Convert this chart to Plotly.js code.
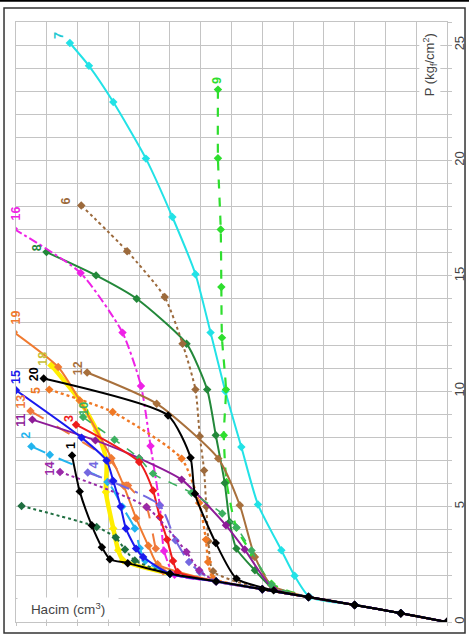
<!DOCTYPE html>
<html><head><meta charset="utf-8">
<script src="https://cdn.plot.ly/plotly-3.0.1.min.js"></script>
<style>html,body{margin:0;padding:0;background:#fff}#chart{width:469px;height:635px}</style>
</head><body><div id="chart"></div>
<script>
// Hacim (arbitrary grid units, increasing to the left) and P (kgf/cm2)
const hacim1 = [12.18, 11.93, 11.54, 11.21, 10.95, 10.37];
const p1 = [7.22, 5.66, 4.19, 3.24, 2.72, 2.55];
const hacim2 = [13.5, 12.9, 11.03, 10.55, 10.14, 9.98, 9.8];
const p2 = [7.61, 7.25, 6.07, 5.0, 4.05, 3.2, 2.65];
const hacim3 = [12.05, 10.0, 9.55, 9.33, 9.09, 8.9, 8.75];
const p3 = [8.55, 6.93, 5.7, 4.55, 3.57, 2.64, 2.17];
const hacim4 = [11.67, 10.89, 9.33, 8.82, 8.38, 8.03];
const p4 = [6.48, 6.09, 5.06, 3.54, 2.6, 2.17];
const hacim5 = [12.92, 10.86, 8.62, 8.05, 7.83, 7.76, 7.6];
const p5 = [10.07, 9.1, 7.08, 5.16, 3.57, 2.6, 1.9];
const hacim6 = [11.88, 10.39, 9.17, 8.59, 8.17, 8.03, 7.89, 7.82, 7.75, 7.6];
const p6 = [18.05, 16.07, 14.08, 12.06, 10.07, 8.05, 6.57, 5.0, 3.5, 2.2];
const hacim7 = [12.25, 11.63, 10.84, 9.78, 8.92, 8.17, 7.68, 7.2, 6.68, 6.14, 5.38, 4.95, 4.46];
const p7 = [25.09, 24.1, 22.53, 20.08, 17.55, 15.07, 12.54, 10.0, 7.58, 5.09, 3.11, 2.0, 1.08];
const hacim8 = [13.01, 11.4, 10.08, 8.46, 7.79, 7.51, 7.22, 7.06, 6.84, 6.24, 5.65];
const p8 = [16.03, 15.02, 14.01, 12.06, 10.07, 8.09, 6.02, 4.33, 3.18, 2.24, 1.45];
const hacim9 = [7.44, 7.44, 7.35, 7.33, 7.31, 7.18, 7.25, 7.16, 6.84, 6.3, 5.7];
const p9 = [23.07, 20.1, 17.01, 14.52, 12.32, 10.07, 8.09, 6.07, 4.08, 2.89, 1.66];
const hacim10 = [11.82, 10.8, 10.0, 9.55, 8.3, 7.3, 6.84, 6.35, 5.7];
const p10 = [8.88, 7.9, 7.1, 6.43, 5.6, 4.7, 4.1, 3.1, 1.6];
const hacim11 = [13.47, 11.42, 10.0, 8.62, 7.18, 6.57, 5.65];
const p11 = [8.77, 7.87, 7.1, 6.17, 4.19, 3.14, 1.45];
const hacim12 = [11.69, 9.43, 7.43, 6.73, 6.24, 5.7];
const p12 = [10.81, 9.46, 7.08, 5.06, 2.82, 1.59];
const hacim13 = [13.53, 10.95, 10.36, 9.76, 9.46, 9.22];
const p13 = [9.14, 7.0, 5.92, 4.98, 3.18, 2.2];
const hacim14 = [12.57, 9.76, 8.46, 8.05];
const p14 = [6.5, 4.98, 3.03, 2.24];
const hacim15 = [14.0, 11.87, 11.06, 10.84, 10.6, 10.43, 10.1, 9.87];
const p15 = [10.04, 7.99, 7.0, 6.11, 5.0, 4.05, 3.18, 2.82];
const hacim16 = [14.07, 11.9, 10.54, 9.94, 9.63, 9.33, 9.19, 8.85];
const p16 = [17.04, 15.12, 12.54, 10.23, 7.63, 5.06, 3.08, 2.05];
const hacim17 = [13.82, 11.38, 10.76, 10.46, 10.14];
const p17 = [5.03, 4.12, 3.66, 3.14, 2.67];
const hacim18 = [12.85, 11.93, 11.38, 11.06, 11.08, 10.84, 10.68, 10.52];
const p18 = [11.12, 9.6, 8.3, 7.0, 5.63, 4.05, 3.11, 2.67];
const hacim19 = [14.07, 12.63, 11.93, 10.9, 10.5, 10.1, 9.7, 9.4];
const p19 = [12.56, 11.05, 9.6, 7.1, 5.9, 4.5, 3.3, 2.5];
const hacim20 = [13.1, 9.06, 8.33, 8.19, 7.51, 6.84, 5.63];
const p20 = [10.55, 8.95, 7.12, 5.56, 3.42, 1.88, 1.37];
// shared loading branch near the origin
const tailHacim = [10.5, 9, 7.5, 6, 4.5, 3, 1.5, 0];
const tailP = [2.42, 2.09, 1.76, 1.42, 1.08, 0.74, 0.38, 0];

const seriesHacim = {1:hacim1,2:hacim2,3:hacim3,4:hacim4,5:hacim5,6:hacim6,7:hacim7,8:hacim8,9:hacim9,10:hacim10,11:hacim11,12:hacim12,13:hacim13,14:hacim14,15:hacim15,16:hacim16,17:hacim17,18:hacim18,19:hacim19,20:hacim20};
const seriesP = {1:p1,2:p2,3:p3,4:p4,5:p5,6:p6,7:p7,8:p8,9:p9,10:p10,11:p11,12:p12,13:p13,14:p14,15:p15,16:p16,17:p17,18:p18,19:p19,20:p20};

const styles = {
  1:{c:'#000000',d:'solid',w:2,lc:'#000000'},
  2:{c:'#22b4ee',d:'longdash',w:2,lc:'#22b4ee'},
  3:{c:'#ee1c1c',d:'solid',w:2,lc:'#ee1c1c'},
  4:{c:'#7468e0',d:'longdashdot',w:2,lc:'#7468e0'},
  5:{c:'#f07824',d:'dot',w:2.4,lc:'#f07824'},
  6:{c:'#9c6a3c',d:'dot',w:2,lc:'#9c6a3c'},
  7:{c:'#22e2e6',d:'solid',w:2,lc:'#22c8d0'},
  8:{c:'#23883a',d:'solid',w:2,lc:'#23883a'},
  9:{c:'#2ede2e',d:'dash',w:2.2,lc:'#2ede2e'},
  10:{c:'#3cb060',d:'dash',w:1.6,lc:'#3cb060'},
  11:{c:'#8e1c98',d:'solid',w:2,lc:'#8e1c98'},
  12:{c:'#a8703c',d:'solid',w:2,lc:'#a8703c'},
  13:{c:'#f07a3c',d:'longdash',w:2,lc:'#f07a3c'},
  14:{c:'#9a2aa8',d:'dot',w:2,lc:'#9a2aa8'},
  15:{c:'#1a1aee',d:'solid',w:2,lc:'#1a1aee'},
  16:{c:'#ee22e6',d:'dashdot',w:2,lc:'#ee22e6'},
  17:{c:'#1f6e40',d:'dot',w:2,lc:'#1f6e40'},
  18:{c:'#ffee00',d:'solid',w:4.5,lc:'#c8c03a'},
  19:{c:'#f07a30',d:'solid',w:2,lc:'#f07a30'},
  20:{c:'#000000',d:'solid',w:2,lc:'#000000'}
};
const drawOrder = [18,7,9,8,6,16,19,12,5,13,11,10,3,2,4,14,17,15,1,20];
const tailStop = {18: 9};   // yellow line stops where it meets the shared branch
const labelPos = {
  1:[12.19,7.66],2:[13.66,8.09],3:[12.3,8.81],4:[11.46,6.79],5:[13.33,10.04],
  6:[12.36,18.24],7:[12.58,25.42],8:[13.33,16.22],9:[7.45,23.47],10:[11.82,9.25],
  11:[13.82,8.74],12:[12.0,10.98],13:[13.82,9.53],14:[12.9,6.65],15:[14.0,10.62],
  16:[14.0,17.7],17:[14.04,5.63],18:[13.12,11.41],19:[14.0,13.2],20:[13.39,10.73]
};

const traces = drawOrder.map(k => {
  const hx = seriesHacim[k].slice(), py = seriesP[k].slice();
  const last = hx[hx.length-1];
  const stop = tailStop[k] !== undefined ? tailStop[k] : -1;
  tailHacim.forEach((u,i) => { if (u < last - 0.5 && u >= stop) { hx.push(u); py.push(tailP[i]); } });
  const s = styles[k];
  return {x:hx, y:py, type:'scatter', mode:'lines+markers', name:String(k), showlegend:false,
    line:{color:s.c, dash:s.d, width:s.w, shape:'spline', smoothing:0.6},
    marker:{symbol:'diamond', size:6.5, color:s.c}, hoverinfo:'skip'};
});

const annotations = Object.keys(labelPos).map(k => ({
  x:labelPos[k][0], y:labelPos[k][1], xref:'x', yref:'y', text:'<b>' + k + '</b>', showarrow:false,
  xanchor:'center', yanchor:'middle',
  textangle:-90, font:{family:'Liberation Sans, Arial, sans-serif', size:12.5, color:styles[k].lc}
}));
annotations.push({xref:'paper', yref:'paper', x:0.1206, y:0.0217, xanchor:'center', yanchor:'middle',
  text:'Hacim (cm<sup>3</sup>)', showarrow:false,
  bgcolor:'#ffffff', width:98, height:19, font:{family:'Liberation Sans, Arial, sans-serif', size:13.5, color:'#444'}});
annotations.push({xref:'paper', yref:'paper', x:0.9606, y:0.928, xanchor:'center', yanchor:'middle',
  text:'P (kg<sub>f</sub>/cm<sup>2</sup>)', showarrow:false,
  textangle:-90, bgcolor:'#ffffff', font:{family:'Liberation Sans, Arial, sans-serif', size:13, color:'#444'}});

const grid = '#c4c4c4';
const layout = {
  width:469, height:635, margin:{l:16, r:22, t:22, b:13},
  paper_bgcolor:'#ffffff', plot_bgcolor:'#ffffff', showlegend:false,
  xaxis:{range:[14,0], dtick:1, tick0:0, showticklabels:false, showgrid:true, gridcolor:grid, gridwidth:1,
    zeroline:false, showline:true, mirror:true, linecolor:grid, ticks:'outside', ticklen:3, tickcolor:grid, fixedrange:true},
  yaxis:{range:[0,26], side:'right', dtick:5, tick0:0, tickangle:-90, showgrid:true, gridcolor:grid, gridwidth:1,
    minor:{dtick:1, showgrid:true, gridcolor:grid, ticks:'outside', ticklen:4, tickcolor:grid},
    zeroline:false, showline:true, mirror:true, linecolor:grid, ticks:'outside', ticklen:4, tickcolor:grid,
    ticklabelstandoff:-4,
    tickfont:{family:'Liberation Sans, Arial, sans-serif', size:13, color:'#444'}, fixedrange:true},
  annotations:annotations,
  shapes:[
    {type:'rect', xref:'paper', yref:'paper', x0:-0.0278, x1:1.0418, y0:-0.0183, y1:1.0233, line:{color:'#333', width:1.5}},
    {type:'line', xref:'paper', yref:'paper', x0:-0.04, x1:1.06, y0:1.0353, y1:1.0353, line:{color:'#000', width:2}}
  ]
};
Plotly.newPlot('chart', traces, layout, {displayModeBar:false, staticPlot:true});
</script></body></html>
